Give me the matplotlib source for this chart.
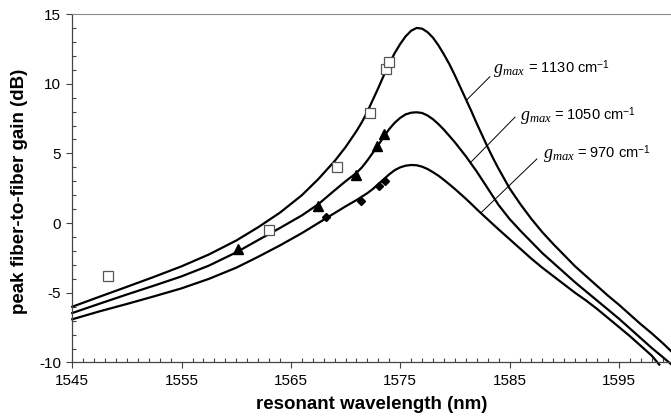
import matplotlib
matplotlib.use('Agg')
import matplotlib.pyplot as plt
from matplotlib.ticker import MultipleLocator

plt.rcParams['font.family'] = ['Liberation Sans', 'DejaVu Sans']
plt.rcParams['axes.unicode_minus'] = False
plt.rcParams['mathtext.fontset'] = 'custom'
plt.rcParams['mathtext.it'] = 'Liberation Serif:italic'
plt.rcParams['mathtext.rm'] = 'Liberation Sans'

# model curves (wavelength nm, gain dB)
wl_1130 = [1545, 1547.5, 1550, 1552.5, 1555, 1557.5, 1560, 1562, 1564, 1566, 1567.5,
           1569, 1570, 1571, 1571.5, 1572, 1572.5, 1573, 1573.5, 1574, 1574.5,
           1575, 1575.5, 1576, 1576.5, 1577, 1577.5, 1578, 1578.5, 1579, 1579.5,
           1580, 1580.5, 1581, 1581.5, 1582, 1582.5, 1583, 1583.5, 1584, 1584.5,
           1585, 1586, 1587, 1588, 1589, 1590, 1591, 1592, 1593, 1594, 1595,
           1596, 1597, 1598, 1599, 1600]
gain_1130 = [-6.0, -5.28, -4.57, -3.85, -3.1, -2.25, -1.25, -0.3, 0.75, 2.0, 3.15,
             4.45, 5.45, 6.6, 7.25, 8.0, 8.85, 9.7, 10.6, 11.45, 12.2,
             12.85, 13.4, 13.8, 14.0, 13.95, 13.7, 13.3, 12.75, 12.1, 11.4,
             10.6, 9.75, 8.9, 8.05, 7.15, 6.3, 5.45, 4.65, 3.9, 3.2,
             2.5, 1.35, 0.3, -0.65, -1.5, -2.3, -3.1, -3.8, -4.5, -5.2, -5.85,
             -6.55, -7.25, -7.9, -8.6, -9.35]

wl_1050 = [1545, 1547.5, 1550, 1552.5, 1555, 1557.5, 1560, 1562, 1564, 1566, 1567.5,
           1569, 1570, 1571, 1571.5, 1572, 1572.5, 1573, 1573.5, 1574, 1574.5,
           1575, 1575.5, 1576, 1576.5, 1577, 1577.5, 1578, 1578.5, 1579, 1579.5,
           1580, 1580.5, 1581, 1581.5, 1582, 1582.5, 1583, 1583.5, 1584, 1584.5,
           1585, 1586, 1587, 1588, 1589, 1590, 1591, 1592, 1593, 1594, 1595,
           1596, 1597, 1598, 1599, 1599.6, 1599.9]
gain_1050 = [-6.45, -5.78, -5.12, -4.48, -3.82, -3.05, -2.1, -1.22, -0.35, 0.55, 1.35,
             2.35, 3.0, 3.6, 4.0, 4.5, 5.05, 5.6, 6.2, 6.75, 7.2,
             7.55, 7.8, 7.92, 7.95, 7.9, 7.72, 7.45, 7.1, 6.7, 6.25,
             5.8, 5.3, 4.8, 4.25, 3.7, 3.1, 2.5, 1.9, 1.3, 0.8,
             0.3, -0.55, -1.35, -2.15, -2.85, -3.55, -4.25, -4.9, -5.55, -6.2, -6.85,
             -7.55, -8.25, -8.95, -9.6, -10.0, -10.2]

wl_970 = [1545, 1547.5, 1550, 1552.5, 1555, 1557.5, 1560, 1562, 1564, 1566, 1567.5,
          1569, 1570, 1571, 1572, 1572.5, 1573, 1573.5, 1574, 1574.5,
          1575, 1575.5, 1576, 1576.5, 1577, 1577.5, 1578, 1578.5, 1579, 1579.5,
          1580, 1580.5, 1581, 1581.5, 1582, 1582.5, 1583, 1584, 1585, 1586,
          1587, 1588, 1589, 1590, 1591, 1592, 1593, 1594, 1595, 1596, 1597,
          1598, 1598.7]
gain_970 = [-6.9, -6.33, -5.8, -5.25, -4.68, -4.0, -3.2, -2.42, -1.6, -0.72, 0.0,
            0.72, 1.2, 1.65, 2.15, 2.45, 2.8, 3.15, 3.5, 3.8,
            4.0, 4.12, 4.17, 4.15, 4.05, 3.88, 3.65, 3.4, 3.1, 2.78,
            2.45, 2.1, 1.75, 1.38, 1.0, 0.63, 0.27, -0.45, -1.15, -1.85,
            -2.55, -3.2, -3.8, -4.4, -5.0, -5.55, -6.15, -6.8, -7.45, -8.1, -8.8,
            -9.5, -10.15]

# measured points
sq_x = [1548.3, 1563.0, 1569.2, 1572.2, 1573.7, 1573.95]
sq_y = [-3.77, -0.47, 4.06, 7.92, 11.03, 11.55]
tri_x = [1560.2, 1567.5, 1571.0, 1572.9, 1573.5]
tri_y = [-1.85, 1.26, 3.48, 5.50, 6.41]
dia_x = [1568.2, 1571.4, 1573.1, 1573.6]
dia_y = [0.42, 1.62, 2.67, 3.05]

labels = ['1130', '1050', '970']

fig = plt.figure(figsize=(6.71, 4.17), dpi=100)
ax = fig.add_axes([0.1077, 0.1307, 0.8960, 0.8357])

for wl, g in [(wl_1130, gain_1130), (wl_1050, gain_1050), (wl_970, gain_970)]:
    ax.plot(wl, g, color='black', linewidth=1.6, clip_on=False, zorder=2,
            solid_joinstyle='round')

ax.plot(sq_x, sq_y, linestyle='none', marker='s', markersize=6.5,
        markerfacecolor='white', markeredgecolor='#555555', markeredgewidth=0.9, zorder=3)
ax.plot(tri_x, tri_y, linestyle='none', marker='^', markersize=6.5,
        color='black', zorder=3)
ax.plot(dia_x, dia_y, linestyle='none', marker='D', markersize=4.2,
        color='black', zorder=3)

# leader lines and labels: line x, line y, (g x, "=" x, baseline y)
leaders = [((1581.1, 1583.2), (8.85, 10.5), (1583.5, 1586.7, 10.8)),
           ((1581.5, 1585.5), (4.4, 7.6), (1586.0, 1589.1, 7.43)),
           ((1582.4, 1587.5), (0.75, 4.6), (1588.1, 1591.2, 4.68))]
for lab, (lx, ly, tpos) in zip(labels, leaders):
    ax.plot(lx, ly, color='black', linewidth=0.7)
    ax.text(tpos[0], tpos[2], r'$g_{max}$', fontsize=13, ha='left', va='baseline')
    ax.text(tpos[1], tpos[2], '= ' + lab + r' cm$^{-1}$',
            fontsize=10.5, ha='left', va='baseline')

ax.set_xlim(1545, 1600)
ax.set_ylim(-10, 15)
ax.set_xticks(range(1545, 1600, 10))
ax.set_yticks(range(-10, 16, 5))
ax.xaxis.set_minor_locator(MultipleLocator(1))
ax.yaxis.set_minor_locator(MultipleLocator(1))
ax.tick_params(which='major', direction='out', length=4, width=0.8,
               color='#444444', labelsize=11, pad=4)
ax.tick_params(which='minor', direction='in', length=3, width=0.8, color='#444444')

for side in ['left', 'bottom']:
    ax.spines[side].set_color('#444444')
    ax.spines[side].set_linewidth(0.9)
ax.spines['top'].set_color('#888888')
ax.spines['top'].set_linewidth(0.8)
ax.spines['right'].set_visible(False)

ax.set_xlabel('resonant wavelength (nm)', fontsize=13.5, fontweight='bold')
ax.set_ylabel('peak fiber-to-fiber gain (dB)', fontsize=13.5, fontweight='bold')
ax.xaxis.set_label_coords(0.498, -0.097)
ax.yaxis.set_label_coords(-0.074, 0.492)

fig.savefig('out.png', dpi=100)
